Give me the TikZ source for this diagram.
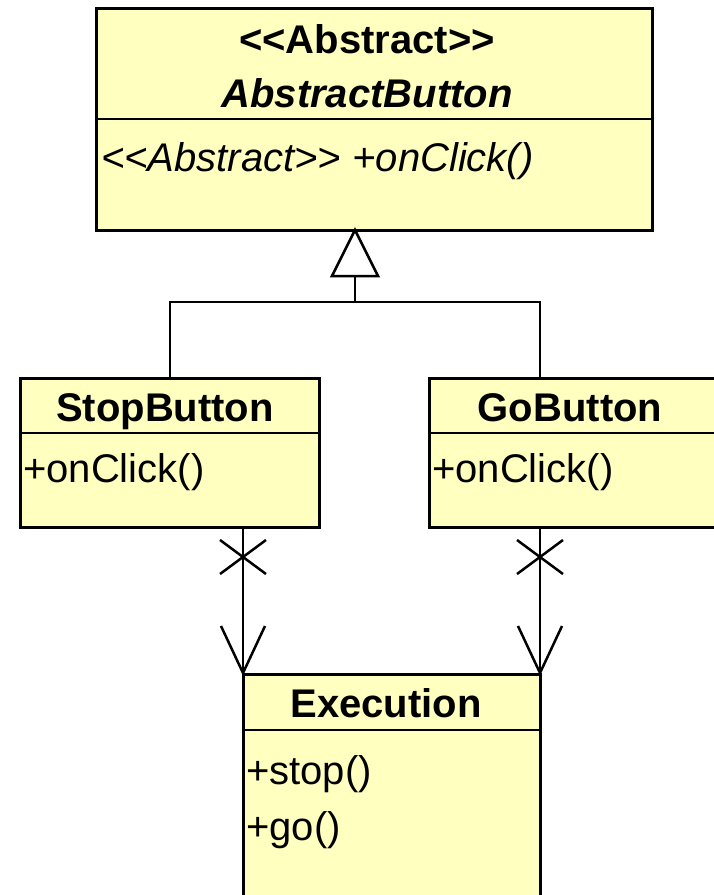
\documentclass[tikz,border=0pt]{standalone}
\usepackage{fontspec}
\setmainfont{Liberation Sans}
\definecolor{classfill}{RGB}{255,255,192}
% guillemet-free stereotype brackets
\newcommand{\stereoL}{<\kern0pt<}
\newcommand{\stereoR}{>\kern0pt>}
\begin{document}
\begin{tikzpicture}[x=1pt,y=-1pt,
  classbox/.style={draw=black, line width=3pt, fill=classfill, inner sep=0pt, anchor=north west},
  divider/.style={line width=2.5pt},
  title/.style={font=\fontsize{40}{44}\selectfont\bfseries, inner sep=0pt, anchor=base},
  member/.style={font=\fontsize{40}{44}\selectfont, inner sep=0pt, anchor=base west},
  link/.style={line width=2.5pt},
]
\useasboundingbox (0,0) rectangle (713,895);

% class boxes
\node[classbox, minimum width=556pt, minimum height=222pt] (ab) at (95,7) {};
\node[classbox, minimum width=299pt, minimum height=149pt] (stop) at (19,377) {};
\node[classbox, minimum width=310pt, minimum height=149pt] (go) at (428,377) {};
\node[classbox, minimum width=297pt, minimum height=232pt] (ex) at (242,673) {};

% compartment dividers
\draw[divider] ([yshift=-112pt]ab.north west) -- ([yshift=-112pt]ab.north east);
\draw[divider] ([yshift=-56pt]stop.north west) -- ([yshift=-56pt]stop.north east);
\draw[divider] ([yshift=-56pt]go.north west) -- ([yshift=-56pt]go.north east);
\draw[divider] ([yshift=-57pt]ex.north west) -- ([yshift=-57pt]ex.north east);

% names and members
\node[title] (abstereo) at (367,53) {\stereoL Abstract\stereoR};
\node[title, font=\fontsize{40}{44}\selectfont\bfseries\itshape] (abname) at (367,107) {AbstractButton};
\node[member, font=\fontsize{40}{44}\selectfont\itshape] (abop) at (101,171) {\stereoL Abstract\stereoR\ +onClick()};

\node[title] (stopname) at (165,421) {StopButton};
\node[member] (stopop) at (23,482) {+onClick()};

\node[title] (goname) at (570,421) {GoButton};
\node[member] (goop) at (432,482) {+onClick()};

\node[title] (exname) at (386,717) {Execution};
\node[member] (exstop) at (246,784) {+stop()};
\node[member] (exgo) at (246,840) {+go()};

% generalization
\coordinate (apex) at (355,230);
\coordinate (triBase) at (355,276);
\coordinate (joint) at (355,302);
\coordinate (goTop) at (540,377);
\draw[link] (triBase) -- (joint);
\draw[link] (stop.north) |- (joint) -| (goTop);
\draw[link, fill=white, line join=miter] (apex) -- ++(-23,46) -- ++(46,0) -- cycle;

% navigable associations with non-navigable source ends
\coordinate (stopFoot) at (243,526);
\coordinate (stopHead) at (243,673);
\coordinate (goFoot) at (540,526);
\coordinate (goHead) at (540,673);
\foreach \src/\dst in {stopFoot/stopHead, goFoot/goHead} {
  \draw[link] (\src) -- (\dst);
  \draw[link] ([shift={(-23,14)}]\src) -- ([shift={(23,48)}]\src);
  \draw[link] ([shift={(23,14)}]\src) -- ([shift={(-23,48)}]\src);
  \draw[link, line join=miter] ([shift={(-22,-47)}]\dst) -- (\dst) -- ([shift={(22,-47)}]\dst);
}
\end{tikzpicture}
\end{document}
